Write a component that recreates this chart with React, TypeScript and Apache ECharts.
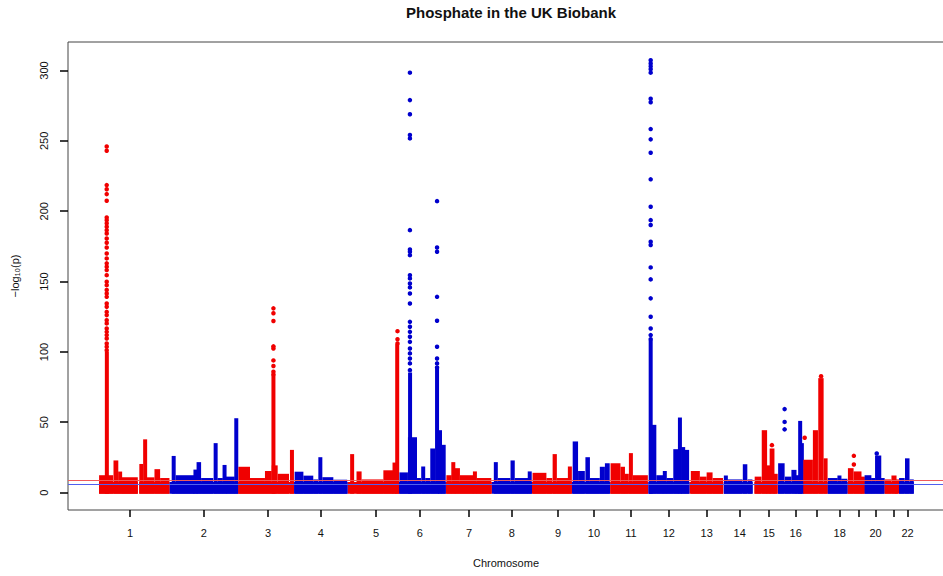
import React, { useEffect, useRef } from 'react';
import * as echarts from 'echarts';

// Chromosome names and tick positions (cumulative genomic position, Mb)
const chrNames = ['1','2','3','4','5','6','7','8','9','10','11','12','13','14','15','16','17','18','19','20','21','22'];
const chrTickMb = [110, 371, 598, 785, 980, 1135, 1309, 1461, 1624, 1751, 1882, 2016, 2150, 2267, 2370, 2465, 2540, 2621, 2688, 2748, 2812, 2861];
const hiddenChrLabels = ['17', '19', '21'];
const yTicks = [0, 50, 100, 150, 200, 250, 300];

// Extent of SNP data per chromosome [chr, startMb, endMb] (cumulative Mb)
const bandSegments: number[][] = [
  [1, 0, 137], [1, 142, 249], [2, 249, 492], [3, 492, 690], [4, 690, 880], [5, 880, 1061],
  [6, 1061, 1227], [7, 1227, 1390], [8, 1390, 1532], [9, 1532, 1673], [10, 1673, 1809],
  [11, 1809, 1944], [12, 1944, 2090], [13, 2090, 2209], [14, 2211, 2313], [15, 2319, 2400],
  [16, 2402, 2490], [17, 2490, 2578], [18, 2578, 2649], [19, 2649, 2708], [20, 2709, 2778],
  [21, 2780, 2828], [22, 2831, 2883],
];
// -log10(p) reached by the dense background of non-significant SNPs
const backgroundTop = 6.5;

// Densely packed SNP regions: [chr, startMb, endMb, max -log10(p)]
const denseRegions: number[][] = [
  [1, 0, 50, 11], [1, 24, 31, 99], [1, 51, 68, 21.5], [1, 68, 81, 13.6], [1, 81, 137, 9.5],
  [1, 144, 155, 19], [1, 157, 169, 36.5], [1, 169, 196, 9.5], [1, 196, 216, 15.3], [1, 216, 249, 9],
  [2, 257, 271, 24.7], [2, 271, 337, 11], [2, 337, 345, 15], [2, 345, 361, 20.3], [2, 361, 404, 9],
  [2, 406, 419, 33.8], [2, 419, 438, 9], [2, 439, 449, 18.3], [2, 449, 480, 10], [2, 480, 491, 51.5],
  [3, 493, 534, 17], [3, 534, 587, 9], [3, 587, 611, 14], [3, 611, 632, 18], [3, 613, 621, 82],
  [3, 632, 672, 12], [3, 676, 689, 29],
  [4, 692, 723, 13.5], [4, 723, 758, 10.7], [4, 758, 775, 8], [4, 776, 790, 23.8], [4, 790, 829, 9.6],
  [4, 829, 878, 7.8],
  [5, 889, 902, 26], [5, 911, 929, 13.7], [5, 929, 1006, 8], [5, 1006, 1041, 14.5], [5, 1041, 1050, 20],
  [5, 1050, 1060, 104],
  [6, 1063, 1093, 13], [6, 1093, 1125, 38], [6, 1095, 1106, 84], [6, 1125, 1139, 9], [6, 1140, 1154, 17.2],
  [6, 1154, 1172, 9], [6, 1172, 1189, 30], [6, 1190, 1202, 87], [6, 1200, 1213, 43], [6, 1213, 1226, 32.6],
  [7, 1229, 1248, 11], [7, 1248, 1259, 20.3], [7, 1259, 1277, 16], [7, 1277, 1324, 11], [7, 1324, 1336, 13.7],
  [7, 1336, 1388, 9],
  [8, 1397, 1411, 20.3], [8, 1411, 1456, 9], [8, 1456, 1471, 21.5], [8, 1471, 1518, 9], [8, 1518, 1530, 13.7],
  [9, 1534, 1583, 12.7], [9, 1583, 1604, 9], [9, 1605, 1620, 26], [9, 1620, 1660, 9], [9, 1660, 1672, 17.2],
  [10, 1676, 1695, 35], [10, 1695, 1719, 14], [10, 1721, 1737, 23.8], [10, 1737, 1772, 9], [10, 1772, 1790, 17],
  [10, 1790, 1807, 19.5],
  [11, 1810, 1845, 19.5], [11, 1845, 1861, 17], [11, 1861, 1874, 12], [11, 1875, 1889, 26.7], [11, 1889, 1942, 11],
  [12, 1946, 1972, 46.8], [12, 1947, 1957, 107], [12, 1972, 1996, 11], [12, 1996, 2008, 14], [12, 2008, 2032, 9],
  [12, 2032, 2050, 29.5], [12, 2050, 2061, 52], [12, 2061, 2073, 31], [12, 2073, 2088, 29],
  [13, 2094, 2126, 14], [13, 2126, 2150, 10], [13, 2150, 2171, 13], [13, 2171, 2208, 9],
  [14, 2212, 2224, 10.8], [14, 2224, 2277, 8], [14, 2278, 2294, 18.8], [14, 2295, 2312, 8],
  [15, 2320, 2344, 10], [15, 2345, 2364, 43], [15, 2365, 2373, 18], [15, 2373, 2390, 30], [15, 2390, 2399, 12],
  [16, 2403, 2426, 19.5], [16, 2427, 2450, 10], [16, 2450, 2468, 14.8], [16, 2468, 2476, 11], [16, 2476, 2486, 49.6],
  [16, 2484, 2490, 33.8],
  [17, 2492, 2526, 22], [17, 2526, 2544, 43], [17, 2545, 2564, 80], [17, 2564, 2578, 23],
  [18, 2579, 2614, 9], [18, 2614, 2626, 10.8], [18, 2626, 2648, 8.5],
  [19, 2650, 2670, 16], [19, 2670, 2698, 13.7], [19, 2698, 2708, 10],
  [20, 2709, 2733, 11], [20, 2733, 2745, 9], [20, 2746, 2768, 25], [20, 2768, 2778, 9],
  [21, 2780, 2804, 8], [21, 2804, 2822, 10.8], [21, 2822, 2828, 8],
  [22, 2831, 2851, 9], [22, 2852, 2868, 23], [22, 2868, 2883, 8],
];

// Individually visible top hits: chromosome, position (Mb), -log10(p) values
const topHits = [
  { chr: 1, mb: 27, logp: [246, 243, 218.6, 215.6, 212.2, 207.5, 195.6, 193.7, 191.4, 189, 186.6, 184.2, 180.7, 177.6, 174.3, 170, 166.5, 163, 160.6, 158.2, 154.6, 149.9, 147.5, 144, 141.6, 139.2, 134.5, 132.1, 128.5, 126.2, 122.6, 120.3, 116.7, 114.3, 112, 109.6, 106.1, 103.7, 101.3] },
  { chr: 3, mb: 617, logp: [131, 127.5, 122, 104, 102.5, 94, 90, 86, 84] },
  { chr: 5, mb: 1056, logp: [114.8, 109, 106] },
  { chr: 6, mb: 1100, logp: [298.5, 279, 269, 254.2, 251.8, 186.6, 172.9, 171.2, 168.8, 154.6, 152.3, 148.7, 145.9, 141.6, 134.5, 121.4, 117.9, 114.3, 110.8, 107.2, 102.5, 99, 95.4, 91.9, 87.1] },
  { chr: 6, mb: 1196, logp: [207.2, 174.3, 171.2, 139.2, 122.2, 103.7, 95.4, 91.9, 89] },
  { chr: 12, mb: 1952, logp: [307.3, 305, 303, 301, 298.5, 280, 277.5, 258.4, 251.1, 241.6, 222.7, 203.2, 193.7, 190.2, 178.3, 176, 160.1, 151.6, 138.1, 125, 116.7, 112, 109] },
  { chr: 15, mb: 2381, logp: [33.8] },
  { chr: 16, mb: 2426, logp: [59.4, 50.3, 45] },
  { chr: 17, mb: 2497, logp: [39] },
  { chr: 17, mb: 2555, logp: [82.8] },
  { chr: 19, mb: 2671, logp: [26.2, 20] },
  { chr: 20, mb: 2752, logp: [27.9] },
];

const genomeWideLine = 8.5;
const suggestiveLine = 6;

const RED = '#f00000';
const BLUE = '#0000cd';
const FONT = 'Liberation Sans, Arial, Helvetica, sans-serif';
const X_MIN = -110;
const Y_MIN = -12.3;

export default function App() {
  const ref = useRef<HTMLDivElement>(null);
  useEffect(() => {
    const chart = echarts.init(ref.current as HTMLDivElement, null, { renderer: 'svg' });
    const colorOf = (chr: number) => (chr % 2 === 1 ? RED : BLUE);

    const makeRender = (minW: number, pad: number) => (params: any, api: any) => {
      const x0 = api.value(0);
      const x1 = api.value(1);
      const top = api.value(2);
      const chr = api.value(3);
      const p0 = api.coord([x0, 0]);
      const p1 = api.coord([x1, top]);
      let left = p0[0];
      let right = p1[0];
      if (right - left < minW) {
        const c = (left + right) / 2;
        left = c - minW / 2;
        right = c + minW / 2;
      }
      const yTop = p1[1] - pad;
      const yBot = p0[1] + 1;
      return {
        type: 'rect',
        shape: { x: left, y: yTop, width: right - left, height: yBot - yTop },
        style: { fill: colorOf(chr) },
      };
    };

    const bandData = bandSegments.map(([chr, s, e]) => [s, e, backgroundTop, chr]);
    const blockData = denseRegions.map(([chr, s, e, t]) => [s, e, t, chr]);
    const dotData = topHits.flatMap((h) => h.logp.map((v) => [h.mb, v, h.chr]));

    const option: any = {
      animation: false,
      backgroundColor: '#ffffff',
      title: {
        text: 'Phosphate in the UK Biobank',
        left: 506,
        top: 0,
        textAlign: 'center',
        textStyle: { fontFamily: FONT, fontSize: 15, fontWeight: 'bold', color: '#111' },
      },
      grid: {
        left: 68,
        top: 42,
        width: 876,
        height: 468,
        show: true,
        borderColor: '#444',
        borderWidth: 1,
        backgroundColor: 'transparent',
        outerBoundsMode: 'none',
        containLabel: false,
      },
      xAxis: {
        type: 'value',
        min: X_MIN,
        max: 2990,
        name: 'Chromosome',
        nameLocation: 'middle',
        nameGap: 47,
        nameTextStyle: { fontFamily: FONT, fontSize: 11, color: '#111' },
        axisLine: { show: false, onZero: false },
        splitLine: { show: false },
        axisTick: { show: false },
        axisLabel: {
          customValues: chrTickMb,
          margin: 17,
          fontFamily: FONT,
          fontSize: 11,
          color: '#111',
          formatter: (v: number) => {
            const i = chrTickMb.indexOf(v);
            const name = i >= 0 ? chrNames[i] : '';
            return hiddenChrLabels.includes(name) ? '' : name;
          },
        },
      },
      yAxis: {
        type: 'value',
        min: Y_MIN,
        max: 320.3,
        name: '\u2212log\u2081\u2080(p)',
        nameLocation: 'middle',
        nameRotate: 90,
        nameGap: 48,
        nameTextStyle: { fontFamily: FONT, fontSize: 11, color: '#111' },
        axisLine: { show: false, onZero: false },
        splitLine: { show: false },
        axisTick: { show: false },
        axisLabel: {
          customValues: yTicks,
          rotate: 90,
          margin: 19,
          fontFamily: FONT,
          fontSize: 11,
          color: '#111',
        },
      },
      series: [
        {
          type: 'custom',
          name: 'background',
          renderItem: makeRender(0, 1.5),
          data: bandData,
          encode: { x: [0, 1], y: 2 },
          silent: true,
          z: 1,
        },
        {
          type: 'custom',
          name: 'dense',
          renderItem: makeRender(4, 2),
          data: blockData,
          encode: { x: [0, 1], y: 2 },
          silent: true,
          z: 2,
        },
        {
          type: 'scatter',
          name: 'hits',
          data: dotData,
          symbol: 'circle',
          symbolSize: 4.5,
          silent: true,
          z: 3,
          itemStyle: { color: (p: any) => colorOf(p.value[2]), opacity: 1 },
          markLine: {
            silent: true,
            symbol: ['none', 'none'],
            label: { show: false },
            data: [
              { yAxis: genomeWideLine, lineStyle: { color: '#f05a5a', width: 1, type: 'solid' } },
              { yAxis: suggestiveLine, lineStyle: { color: '#5060f0', width: 1, type: 'solid' } },
            ],
          },
        },
      ],
    };
    chart.setOption(option);

    // Tick marks placed with the axes' own scales
    const toX = (v: number) => chart.convertToPixel({ xAxisIndex: 0 }, v) as number;
    const toY = (v: number) => chart.convertToPixel({ yAxisIndex: 0 }, v) as number;
    const bottom = toY(Y_MIN);
    const left = toX(X_MIN);
    const tickStyle = { stroke: '#000', lineWidth: 1.5 };
    const graphics: any[] = [];
    chrTickMb.forEach((v) => {
      const px = Math.round(toX(v));
      graphics.push({ type: 'line', silent: true, z: 10, shape: { x1: px, y1: bottom, x2: px, y2: bottom + 7 }, style: tickStyle });
    });
    yTicks.forEach((v) => {
      const py = Math.round(toY(v));
      graphics.push({ type: 'line', silent: true, z: 10, shape: { x1: left - 8, y1: py, x2: left, y2: py }, style: tickStyle });
    });
    chart.setOption({ graphic: { elements: graphics } });

    return () => chart.dispose();
  }, []);
  return (
    <div
      ref={ref}
      style={{ position: 'fixed', left: 0, top: 0, width: 943, height: 576, background: '#fff' }}
    />
  );
}
